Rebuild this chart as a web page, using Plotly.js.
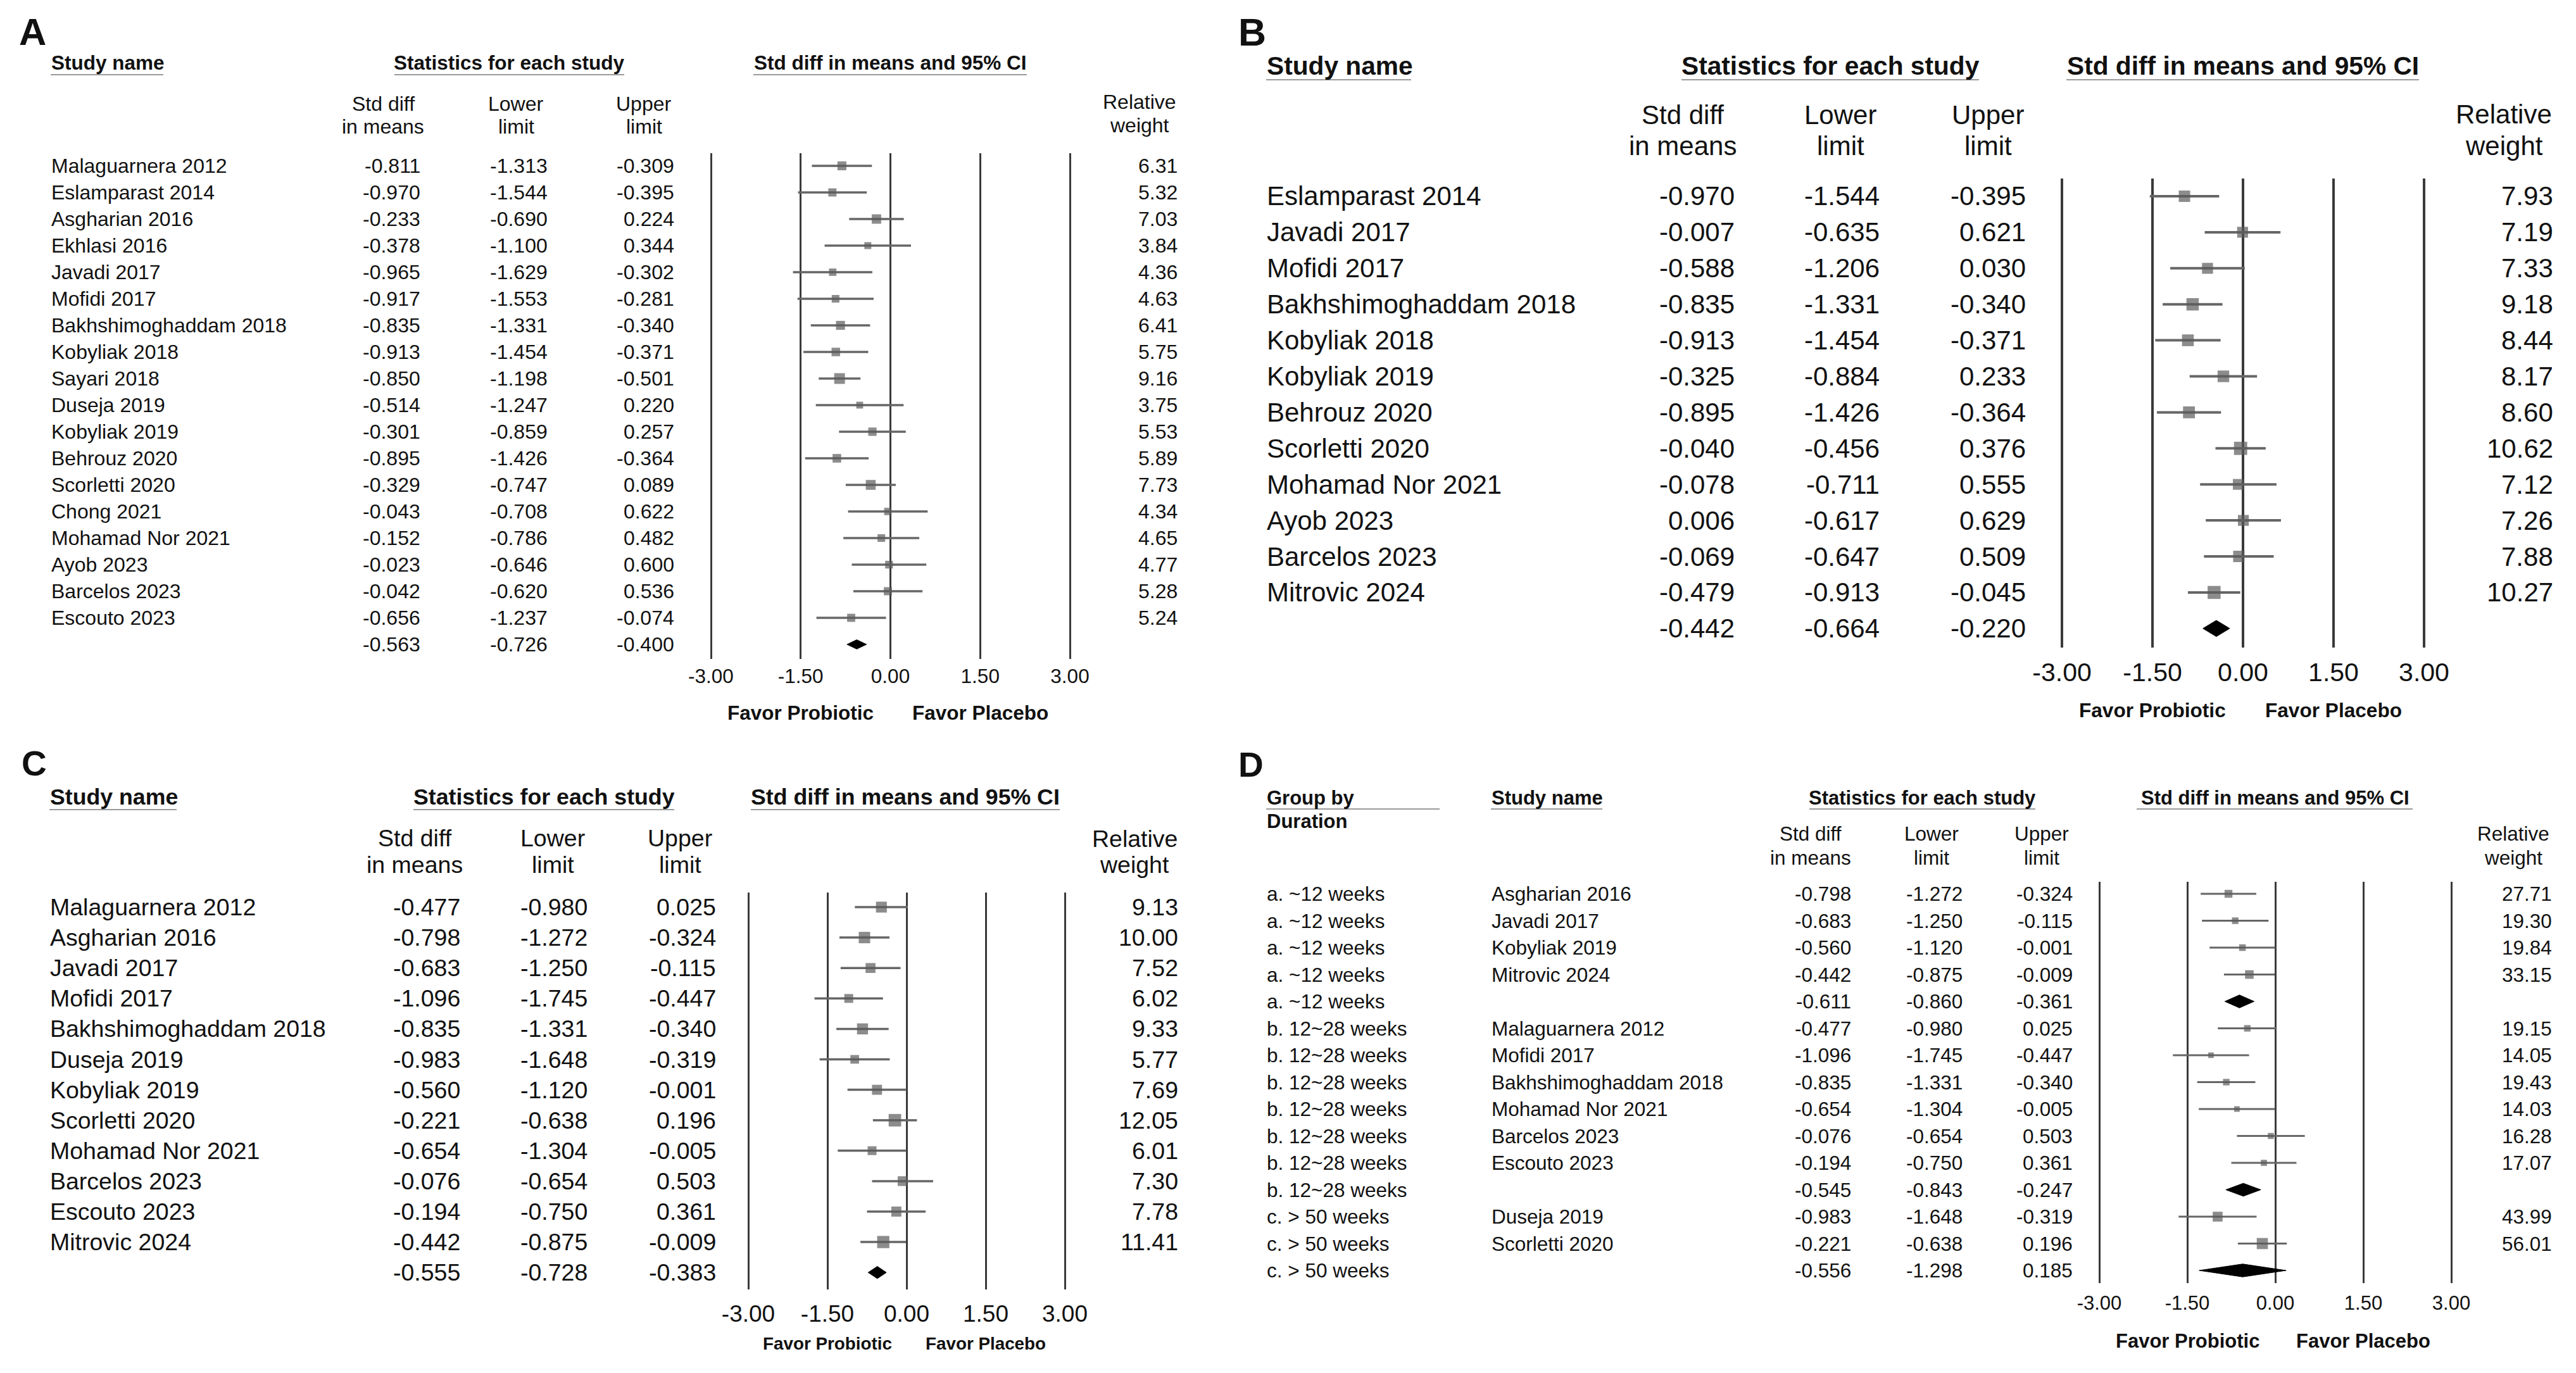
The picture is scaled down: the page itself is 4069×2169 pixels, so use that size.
<!DOCTYPE html>
<html>
<head>
<meta charset="utf-8">
<script src="https://cdn.plot.ly/plotly-3.0.1.min.js"></script>
<style>html,body{margin:0;padding:0;background:#fff}#chart{width:4069px;height:2169px}</style>
</head>
<body>
<div id="chart"></div>
<script>
// ---------------- DATA ----------------
// Panel A
const studiesA = ["Malaguarnera 2012","Eslamparast 2014","Asgharian 2016","Ekhlasi 2016","Javadi 2017","Mofidi 2017","Bakhshimoghaddam 2018","Kobyliak 2018","Sayari 2018","Duseja 2019","Kobyliak 2019","Behrouz 2020","Scorletti 2020","Chong 2021","Mohamad Nor 2021","Ayob 2023","Barcelos 2023","Escouto 2023"];
const smdA   = [-0.811,-0.970,-0.233,-0.378,-0.965,-0.917,-0.835,-0.913,-0.850,-0.514,-0.301,-0.895,-0.329,-0.043,-0.152,-0.023,-0.042,-0.656];
const lowerA = [-1.313,-1.544,-0.690,-1.100,-1.629,-1.553,-1.331,-1.454,-1.198,-1.247,-0.859,-1.426,-0.747,-0.708,-0.786,-0.646,-0.620,-1.237];
const upperA = [-0.309,-0.395,0.224,0.344,-0.302,-0.281,-0.340,-0.371,-0.501,0.220,0.257,-0.364,0.089,0.622,0.482,0.600,0.536,-0.074];
const weightA = [6.31,5.32,7.03,3.84,4.36,4.63,6.41,5.75,9.16,3.75,5.53,5.89,7.73,4.34,4.65,4.77,5.28,5.24];
const summaryA = [-0.563,-0.726,-0.400];

// Panel B
const studiesB = ["Eslamparast 2014","Javadi 2017","Mofidi 2017","Bakhshimoghaddam 2018","Kobyliak 2018","Kobyliak 2019","Behrouz 2020","Scorletti 2020","Mohamad Nor 2021","Ayob 2023","Barcelos 2023","Mitrovic 2024"];
const smdB   = [-0.970,-0.007,-0.588,-0.835,-0.913,-0.325,-0.895,-0.040,-0.078,0.006,-0.069,-0.479];
const lowerB = [-1.544,-0.635,-1.206,-1.331,-1.454,-0.884,-1.426,-0.456,-0.711,-0.617,-0.647,-0.913];
const upperB = [-0.395,0.621,0.030,-0.340,-0.371,0.233,-0.364,0.376,0.555,0.629,0.509,-0.045];
const weightB = [7.93,7.19,7.33,9.18,8.44,8.17,8.60,10.62,7.12,7.26,7.88,10.27];
const summaryB = [-0.442,-0.664,-0.220];

// Panel C
const studiesC = ["Malaguarnera 2012","Asgharian 2016","Javadi 2017","Mofidi 2017","Bakhshimoghaddam 2018","Duseja 2019","Kobyliak 2019","Scorletti 2020","Mohamad Nor 2021","Barcelos 2023","Escouto 2023","Mitrovic 2024"];
const smdC   = [-0.477,-0.798,-0.683,-1.096,-0.835,-0.983,-0.560,-0.221,-0.654,-0.076,-0.194,-0.442];
const lowerC = [-0.980,-1.272,-1.250,-1.745,-1.331,-1.648,-1.120,-0.638,-1.304,-0.654,-0.750,-0.875];
const upperC = [0.025,-0.324,-0.115,-0.447,-0.340,-0.319,-0.001,0.196,-0.005,0.503,0.361,-0.009];
const weightC = [9.13,10.00,7.52,6.02,9.33,5.77,7.69,12.05,6.01,7.30,7.78,11.41];
const summaryC = [-0.555,-0.728,-0.383];

// Panel D (grouped by duration; "summary" rows are subgroup totals)
const groupD = ["a. ~12 weeks","a. ~12 weeks","a. ~12 weeks","a. ~12 weeks","a. ~12 weeks",
  "b. 12~28 weeks","b. 12~28 weeks","b. 12~28 weeks","b. 12~28 weeks","b. 12~28 weeks","b. 12~28 weeks","b. 12~28 weeks",
  "c. > 50 weeks","c. > 50 weeks","c. > 50 weeks"];
const studiesD = ["Asgharian 2016","Javadi 2017","Kobyliak 2019","Mitrovic 2024","",
  "Malaguarnera 2012","Mofidi 2017","Bakhshimoghaddam 2018","Mohamad Nor 2021","Barcelos 2023","Escouto 2023","",
  "Duseja 2019","Scorletti 2020",""];
const rowTypeD = ["study","study","study","study","summary",
  "study","study","study","study","study","study","summary",
  "study","study","summary"];
const smdD   = [-0.798,-0.683,-0.560,-0.442,-0.611,-0.477,-1.096,-0.835,-0.654,-0.076,-0.194,-0.545,-0.983,-0.221,-0.556];
const lowerD = [-1.272,-1.250,-1.120,-0.875,-0.860,-0.980,-1.745,-1.331,-1.304,-0.654,-0.750,-0.843,-1.648,-0.638,-1.298];
const upperD = [-0.324,-0.115,-0.001,-0.009,-0.361,0.025,-0.447,-0.340,-0.005,0.503,0.361,-0.247,-0.319,0.196,0.185];
const weightD = [27.71,19.30,19.84,33.15,null,19.15,14.05,19.43,14.03,16.28,17.07,null,43.99,56.01,null];

// Axis ticks
const tickVals = [-3, -1.5, 0, 1.5, 3];
const tickText = ["-3.00", "-1.50", "0.00", "1.50", "3.00"];

// ---------------- LAYOUT / DRAWING ----------------
const W = 4069, H = 2169;
const FONT = "Liberation Sans, Arial, Helvetica, sans-serif";
const TXT = "#111111";
const px = v => v / W, py = v => 1 - v / H;

const traces = [], annotations = [], shapes = [];
const layout = {
  width: W, height: H, margin: {l:0, r:0, t:0, b:0, pad:0},
  paper_bgcolor: "#ffffff", plot_bgcolor: "rgba(0,0,0,0)",
  showlegend: false, font: {family: FONT, color: TXT}
};

function ann(o, size, bold) {
  annotations.push(Object.assign({
    showarrow: false, xref: "paper", yref: "paper", borderpad: 0,
    font: {family: FONT, size: size, color: TXT, weight: bold ? 700 : 400}
  }, o));
}
function uline(x0, x1, y) {
  shapes.push({type: "line", xref: "paper", yref: "paper",
    x0: px(x0), x1: px(x1), y0: py(y), y1: py(y), line: {color: "#9a9a9a", width: 2}});
}

function rowsFrom(names, smd, lower, upper, weight, summary) {
  return {
    group: null,
    names: names.concat([""]),
    smd: smd.concat([summary[0]]),
    lower: lower.concat([summary[1]]),
    upper: upper.concat([summary[2]]),
    weight: weight.concat([null]),
    isSum: names.map(() => false).concat([true])
  };
}

function addPanel(c, r) {
  const sfx = c.id === 1 ? "" : String(c.id);
  const xr = "x" + sfx, yr = "y" + sfx;
  const s = (c.x3 - c.xm3) / 6;
  layout["xaxis" + sfx] = {
    domain: [px(c.xm3 - 0.3 * s), px(c.x3 + 0.3 * s)], range: [-3.3, 3.3], anchor: yr,
    tickmode: "array", tickvals: tickVals, ticktext: tickText,
    tickfont: {family: FONT, size: c.tick, color: TXT},
    showgrid: true, gridcolor: "#3a3a3a", gridwidth: c.gridW,
    zeroline: false, showline: false,
    ticks: "", ticklabelstandoff: c.standoff, fixedrange: true
  };
  layout["yaxis" + sfx] = {
    domain: [py(c.lineBot), py(c.lineTop)],
    range: [(c.lineBot - c.row0) / c.sp, (c.lineTop - c.row0) / c.sp],
    anchor: xr, visible: false, showgrid: false, zeroline: false, fixedrange: true
  };

  // panel letter
  ann({x: px(c.letterX), y: py(c.letterY), xanchor: "left", yanchor: "middle", text: c.letter}, c.letterSize, true);

  // header row 1
  if (r.group) {
    ann({x: px(c.groupX), y: py(c.hdrY), xanchor: "left", yanchor: "middle", text: "Group by"}, c.head, true);
    ann({x: px(c.groupX), y: py(c.durationY), xanchor: "left", yanchor: "middle", text: "Duration"}, c.head, true);
    uline(c.groupUl[0], c.groupUl[1], c.ulY);
  }
  ann({x: px(c.studyUl[0]), y: py(c.hdrY), xanchor: "left", yanchor: "middle", text: "Study name"}, c.head, true);
  uline(c.studyUl[0], c.studyUl[1], c.ulY);
  ann({x: px(c.statsC), y: py(c.hdrY), xanchor: "center", yanchor: "middle", text: "Statistics for each study"}, c.head, true);
  uline(c.statsUl[0], c.statsUl[1], c.ulY);
  ann({x: px(c.titleC), y: py(c.hdrY), xanchor: "center", yanchor: "middle", text: "Std diff in means and 95% CI"}, c.head, true);
  uline(c.titleUl[0], c.titleUl[1], c.ulY);

  // header row 2
  const h2 = [["Std diff", "in means"], ["Lower", "limit"], ["Upper", "limit"]];
  h2.forEach((pair, k) => {
    pair.forEach((t, j) => ann({x: px(c.colC[k]), y: py(c.h2Y[j]), xanchor: "center", yanchor: "middle", text: t}, c.body));
  });
  ["Relative", "weight"].forEach((t, j) =>
    ann({x: px(c.relC), y: py(c.relY[j]), xanchor: "center", yanchor: "middle", text: t}, c.body));

  // rows
  const mx = [], my = [], ms = [], ep = [], em = [];
  r.names.forEach((nm, i) => {
    const yref = yr;
    if (r.group) ann({x: px(c.groupX), yref: yref, y: i, xanchor: "left", yanchor: "middle", text: r.group[i]}, c.body);
    if (nm) ann({x: px(c.nameX), yref: yref, y: i, xanchor: "left", yanchor: "middle", text: nm}, c.body);
    [r.smd[i], r.lower[i], r.upper[i]].forEach((v, k) =>
      ann({x: px(c.colR[k]), yref: yref, y: i, xanchor: "right", yanchor: "middle", text: v.toFixed(3)}, c.body));
    if (r.weight[i] !== null)
      ann({x: px(c.wR), yref: yref, y: i, xanchor: "right", yanchor: "middle", text: r.weight[i].toFixed(2)}, c.body);

    if (!r.isSum[i]) {
      mx.push(r.smd[i]); my.push(i); ms.push(c.sqK * Math.sqrt(r.weight[i]));
      ep.push(r.upper[i] - r.smd[i]); em.push(r.smd[i] - r.lower[i]);
    } else {
      traces.push({
        type: "scatter", mode: "lines", xaxis: xr, yaxis: yr, hoverinfo: "skip",
        x: [r.lower[i], r.smd[i], r.upper[i], r.smd[i], r.lower[i]],
        y: [i, i - c.dh, i, i + c.dh, i],
        fill: "toself", fillcolor: "#000000", line: {color: "#000000", width: 1}
      });
    }
  });
  traces.push({
    type: "scatter", mode: "markers", xaxis: xr, yaxis: yr, hoverinfo: "skip",
    x: mx, y: my,
    marker: {symbol: "square", size: ms, color: "#5b5b5b", line: {width: 0}},
    error_x: {type: "data", symmetric: false, array: ep, arrayminus: em,
      thickness: c.ciW, width: 0, color: "#666666"}
  });

  // favour labels
  ann({xref: xr, x: -1.5, y: py(c.favY), xanchor: "center", yanchor: "middle", text: "Favor Probiotic"}, c.fav, true);
  ann({xref: xr, x: 1.5, y: py(c.favY), xanchor: "center", yanchor: "middle", text: "Favor Placebo"}, c.fav, true);
}

const cfgA = {id:1, letter:"A", letterX:29, letterY:50, letterSize:60,
  body:32, head:31.5, tick:31.5, fav:31.5,
  hdrY:99, ulY:118, h2Y:[164,200], relY:[161,198],
  studyUl:[80,258], statsC:804, statsUl:[623,986], titleC:1406, titleUl:[1190,1622],
  colC:[605,815,1017], relC:1800,
  row0:262, sp:42.0, nameX:80, colR:[665,866,1066], wR:1861,
  xm3:1123, x3:1690, lineTop:242, lineBot:1041, gridW:3,
  standoff:5, favY:1126, sqK:5.6, ciW:3.5, dh:0.175};

const cfgB = {id:2, letter:"B", letterX:1955, letterY:51, letterSize:61,
  body:42, head:40.7, tick:41, fav:31.6,
  hdrY:104, ulY:126, h2Y:[181,231], relY:[180,231],
  studyUl:[2000,2229], statsC:2891, statsUl:[2656,3126], titleC:3543, titleUl:[3264,3821],
  colC:[2658,2907,3140], relC:3955,
  row0:310, sp:56.9, nameX:2000, colR:[2741,2970,3201], wR:4034,
  xm3:3257, x3:3829, lineTop:282, lineBot:1023, gridW:3.5,
  standoff:11, favY:1122, sqK:6.4, ciW:4, dh:0.225};

const cfgC = {id:3, letter:"C", letterX:33, letterY:1206, letterSize:55,
  body:37.5, head:35.7, tick:37, fav:27.8,
  hdrY:1259, ulY:1279, h2Y:[1324,1366], relY:[1325,1366],
  studyUl:[78,279], statsC:859, statsUl:[653,1065], titleC:1430, titleUl:[1186,1674],
  colC:[655,873,1074], relC:1792,
  row0:1433, sp:48.1, nameX:78, colR:[728,929,1132], wR:1862,
  xm3:1182, x3:1682, lineTop:1410, lineBot:2037, gridW:3,
  standoff:13, favY:2122, sqK:5.7, ciW:3.5, dh:0.2};

const cfgD = {id:4, letter:"D", letterX:1955, letterY:1208, letterSize:55,
  body:31.5, head:31, tick:31, fav:31,
  hdrY:1260, ulY:1278, h2Y:[1317,1355], relY:[1317,1355],
  groupX:2000, groupUl:[2000,2274], durationY:1297,
  studyUl:[2355,2531], statsC:3036, statsUl:[2858,3215], titleC:3594, titleUl:[3375,3811],
  colC:[2860,3051,3225], relC:3970,
  row0:1412, sp:42.5, nameX:2355, colR:[2925,3101,3275], wR:4032,
  xm3:3316, x3:3872, lineTop:1393, lineBot:2027, gridW:3,
  standoff:10, favY:2118, sqK:2.35, ciW:3, dh:0.24};

addPanel(cfgA, rowsFrom(studiesA, smdA, lowerA, upperA, weightA, summaryA));
addPanel(cfgB, rowsFrom(studiesB, smdB, lowerB, upperB, weightB, summaryB));
addPanel(cfgC, rowsFrom(studiesC, smdC, lowerC, upperC, weightC, summaryC));
addPanel(cfgD, {
  group: groupD, names: studiesD, smd: smdD, lower: lowerD, upper: upperD,
  weight: weightD, isSum: rowTypeD.map(t => t === "summary")
});

layout.annotations = annotations;
layout.shapes = shapes;
Plotly.newPlot("chart", traces, layout, {staticPlot: true, displayModeBar: false});
</script>
</body>
</html>
